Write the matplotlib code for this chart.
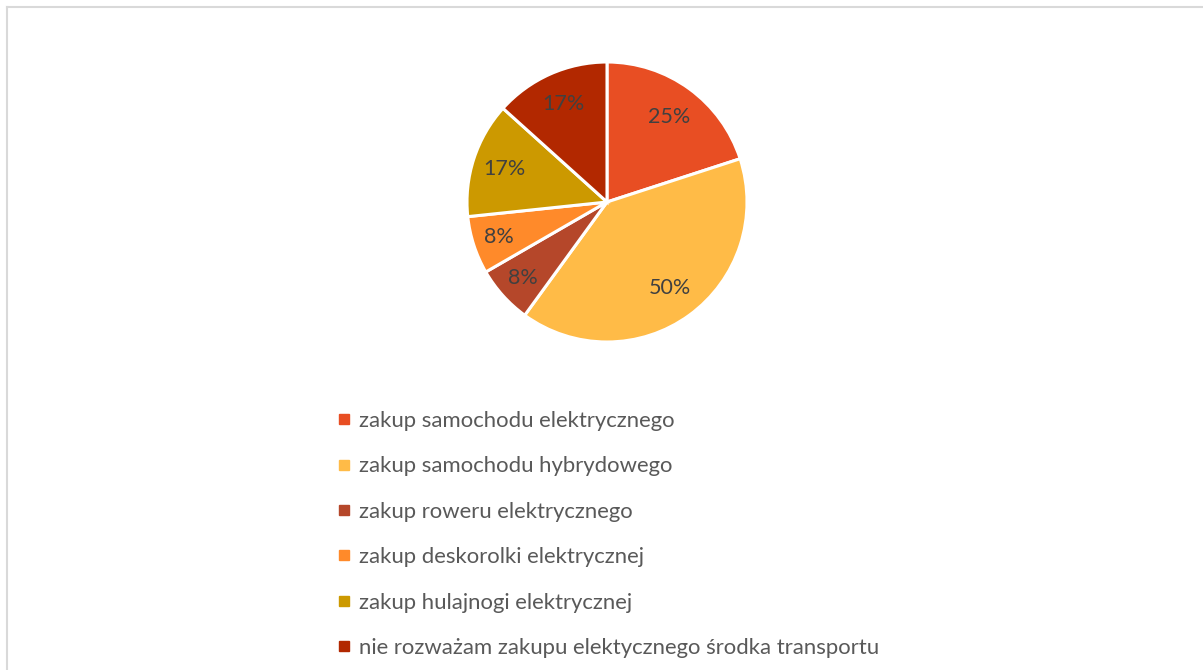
import matplotlib
matplotlib.use("Agg")
import matplotlib.pyplot as plt
from matplotlib.lines import Line2D
import numpy as np

plt.rcParams['font.family'] = ['Lato', 'DejaVu Sans']

categories = [
    "zakup samochodu elektrycznego",
    "zakup samochodu hybrydowego",
    "zakup roweru elektrycznego",
    "zakup deskorolki elektrycznej",
    "zakup hulajnogi elektrycznej",
    "nie rozważam zakupu elektycznego środka transportu",
]
counts = [3, 6, 1, 1, 2, 2]
pct_labels = ["25%", "50%", "8%", "8%", "17%", "17%"]
colors = ["#E84E23", "#FFBB47", "#B5472A", "#FF8A2A", "#CC9900", "#B22800"]

W, H = 1203, 670
fig = plt.figure(figsize=(W / 100, H / 100), dpi=100)

# frame lines (top and left)
fig.add_artist(Line2D([6.5 / W, 6.5 / W], [0, 1 - 6.5 / H], color="#D9D9D9", lw=1.5))
fig.add_artist(Line2D([6.5 / W, 1], [1 - 6.5 / H, 1 - 6.5 / H], color="#D9D9D9", lw=1.5))

cx, cy, r = 607, 202, 140
ax = fig.add_axes([(cx - r) / W, 1 - (cy + r) / H, 2 * r / W, 2 * r / H])
wedges, _ = ax.pie(counts, colors=colors, startangle=90, counterclock=False,
                   wedgeprops=dict(edgecolor="white", linewidth=2.2))
ax.set_xlim(-1, 1)
ax.set_ylim(-1, 1)
ax.set_aspect("equal")
ax.axis("off")

dists = [0.75, 0.76, 0.81, 0.81, 0.77, 0.77]
for w, lab, d in zip(wedges, pct_labels, dists):
    ang = np.deg2rad((w.theta1 + w.theta2) / 2)
    ax.text(d * np.cos(ang), d * np.sin(ang), lab, ha="center", va="center",
            fontsize=15.5, color="#404040")

handles = [Line2D([], [], marker="s", ls="", color=c, markersize=7) for c in colors]
leg = fig.legend(handles, categories, loc="upper left",
                 bbox_to_anchor=(337 / W, 1 - 411 / H), frameon=False,
                 fontsize=15.9, labelcolor="#595959", labelspacing=1.15,
                 handlelength=0.6, handletextpad=0.4, borderpad=0, borderaxespad=0)

fig.savefig("out.png", dpi=100, facecolor="white")
